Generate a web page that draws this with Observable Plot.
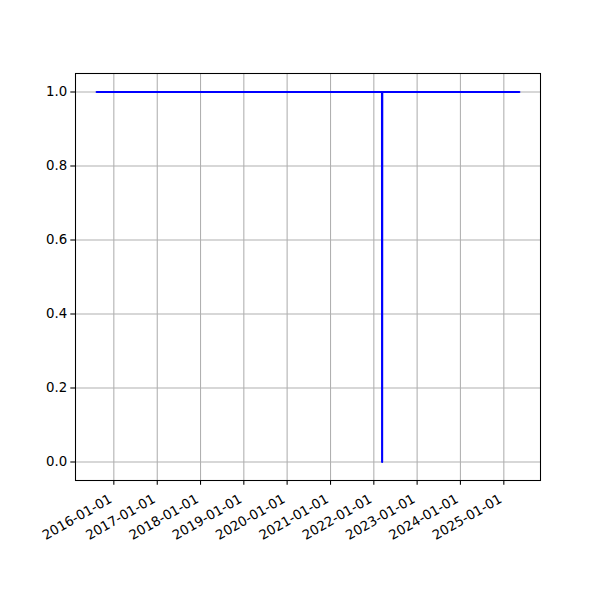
<!DOCTYPE html>
<html>
<head>
<meta charset="utf-8">
<script src="https://cdn.jsdelivr.net/npm/d3@7"></script>
<script src="https://cdn.jsdelivr.net/npm/@observablehq/plot@0.6"></script>
<style>
  html, body { margin: 0; padding: 0; background: #fff; }
</style>
</head>
<body>
<div id="chart"></div>
<script>
const dates = ["2015-08-09", "2022-03-11", "2022-03-12", "2022-03-13", "2025-05-12"];
const values = [1, 1, 0, 1, 1];
const xTickLabels = ["2016-01-01","2017-01-01","2018-01-01","2019-01-01","2020-01-01","2021-01-01","2022-01-01","2023-01-01","2024-01-01","2025-01-01"];
const yTickValues = [0.0, 0.2, 0.4, 0.6, 0.8, 1.0];

const data = dates.map((d, i) => ({date: new Date(d + "T00:00:00Z"), value: values[i]}));
const xTicks = xTickLabels.map(s => new Date(s + "T00:00:00Z"));

const [x0, x1] = d3.extent(data, d => +d.date);
const pad = (x1 - x0) * 0.05;
const xDomain = [new Date(x0 - pad), new Date(x1 + pad)];

const fs = 13.33;
const gridColor = "#b0b0b0";

const chart = Plot.plot({
  width: 600,
  height: 600,
  marginLeft: 75,
  marginRight: 60,
  marginTop: 73,
  marginBottom: 120,
  style: {fontFamily: "DejaVu Sans", fontSize: fs + "px", color: "black", background: "white"},
  x: {type: "utc", domain: xDomain, label: null},
  y: {domain: [-0.05, 1.05], label: null},
  marks: [
    Plot.gridX(xTicks, {stroke: gridColor, strokeOpacity: 1, strokeWidth: 1.07}),
    Plot.gridY(yTickValues, {stroke: gridColor, strokeOpacity: 1, strokeWidth: 1.07}),
    Plot.line(data, {x: "date", y: "value", stroke: "#0000ff", strokeWidth: 2.1, curve: "linear"}),
    Plot.frame({stroke: "black", strokeWidth: 1.07}),
    Plot.axisX(xTicks, {tickSize: 4.7, tickFormat: () => "", stroke: "black", strokeWidth: 1.07, label: null}),
    Plot.text(xTicks, {
      x: d => d,
      text: (d, i) => xTickLabels[i],
      frameAnchor: "bottom",
      dy: 21,
      dx: -1,
      rotate: -30,
      textAnchor: "end",
      lineAnchor: "bottom",
      fill: "black",
      fontSize: fs
    }),
    Plot.axisY(yTickValues, {
      tickSize: 4.7,
      tickPadding: 3.5,
      tickFormat: d3.format(".1f"),
      stroke: "black",
      strokeWidth: 1.07,
      fill: "black",
      fontSize: fs,
      label: null
    })
  ]
});
document.getElementById("chart").appendChild(chart);
</script>
</body>
</html>
